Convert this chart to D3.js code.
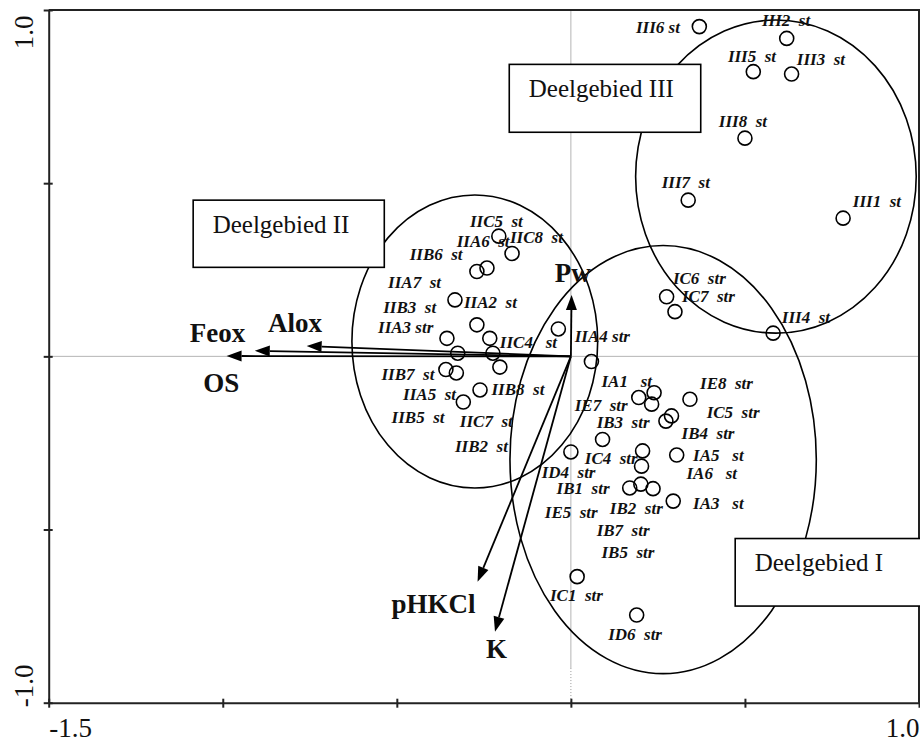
<!DOCTYPE html>
<html>
<head>
<meta charset="utf-8">
<script src="https://cdn.jsdelivr.net/npm/d3@7"></script>
<style>
  body { margin: 0; background: #fff; }
  svg { display: block; }
  text { font-family: "Liberation Serif", "Times New Roman", serif; }
  .site-label { white-space: pre; font-style: italic; font-weight: bold; font-size: 17px; fill: #111; }
  .env-label { font-weight: bold; font-size: 27px; fill: #111; }
  .region-label { font-size: 25px; fill: #111; }
</style>
</head>
<body>
<svg id="chart" width="920" height="742"></svg>
<script>
// ---- Ordination axes ----
const xDomain = [-1.5, 1.0];
const yDomain = [-1.0, 1.0];
const xTicks = [-1.5, -1.0, -0.5, 0, 0.5, 1.0];
const xTickLabels = ["-1.5", "", "", "", "", "1.0"];
const yTicks = [-1.0, -0.5, 0, 0.5, 1.0];
const yTickLabels = ["-1.0", "", "", "", "1.0"];

// ---- Sample scores (axis 1, axis 2) per sub-area ----
const siteScoresIII = [
  [0.369, 0.952], [0.620, 0.918], [0.524, 0.822], [0.634, 0.815],
  [0.500, 0.630], [0.337, 0.451], [0.782, 0.399], [0.581, 0.067]
];
const siteScoresII = [
  [-0.207, 0.347], [-0.169, 0.297], [-0.270, 0.245], [-0.241, 0.255],
  [-0.333, 0.163], [-0.270, 0.091], [-0.356, 0.052], [-0.233, 0.052],
  [-0.325, 0.009], [-0.224, 0.009], [-0.204, -0.031], [-0.359, -0.038],
  [-0.329, -0.048], [-0.261, -0.097], [-0.309, -0.132], [-0.036, 0.079],
  [0.059, -0.015]
];
const siteScoresI = [
  [0.275, 0.172], [0.299, 0.129], [0.195, -0.119], [0.239, -0.105],
  [0.232, -0.138], [0.342, -0.124], [0.273, -0.187], [0.289, -0.172],
  [0.091, -0.240], [0.000, -0.276], [0.206, -0.273], [0.203, -0.317],
  [0.304, -0.285], [0.169, -0.380], [0.201, -0.369], [0.236, -0.382],
  [0.294, -0.418], [0.018, -0.636], [0.189, -0.747]
];

// ---- Sample labels: text and anchor (axis 1, axis 2) ----
const siteLabelsIII = [
  ["III6 st", 0.187, 0.933], ["III2  st", 0.549, 0.954], ["III5  st", 0.451, 0.851],
  ["III3  st", 0.649, 0.841], ["III8  st", 0.425, 0.661], ["III7  st", 0.261, 0.485],
  ["III1  st", 0.810, 0.430], ["III4  st", 0.606, 0.095]
];
const siteLabelsII = [
  ["IIA4 str", 0.011, 0.042], ["IIC5  st", -0.290, 0.374], ["IIC8  st", -0.175, 0.326],
  ["IIA6  st", -0.328, 0.317], ["IIB6  st", -0.463, 0.278], ["IIA7  st", -0.525, 0.196],
  ["IIB3  st", -0.539, 0.124], ["IIA2  st", -0.307, 0.139], ["IIA3 str", -0.554, 0.067],
  ["IIC4   st", -0.204, 0.023], ["IIB7  st", -0.544, -0.068], ["IIB8  st", -0.228, -0.112],
  ["IIA5  st", -0.482, -0.126], ["IIB5  st", -0.515, -0.192], ["IIC7  st", -0.319, -0.205],
  ["IIB2  st", -0.333, -0.276]
];
const siteLabelsI = [
  ["IC6  str", 0.293, 0.209], ["IC7  str", 0.319, 0.156],
  ["IA1   st", 0.088, -0.088], ["IE8  str", 0.371, -0.095], ["IE7  str", 0.011, -0.158],
  ["IC5  str", 0.390, -0.177], ["IB3  str", 0.074, -0.206], ["IB4  str", 0.318, -0.240],
  ["IA5   st", 0.351, -0.302], ["IC4  str", 0.040, -0.312], ["ID4  str", -0.084, -0.350],
  ["IA6   st", 0.332, -0.355], ["IB1  str", -0.041, -0.398], ["IA3   st", 0.351, -0.442],
  ["IE5  str", -0.075, -0.466], ["IB2  str", 0.112, -0.456], ["IB7  str", 0.074, -0.519],
  ["IB5  str", 0.088, -0.581], ["IC1  str", -0.060, -0.705], ["ID6  str", 0.107, -0.819]
];

// ---- Environmental variables: arrow tips and label anchors ----
const envNames = ["Feox", "OS", "Alox", "Pw", "pHKCl", "K"];
const envAxis1 = [-0.989, -0.908, -0.759, 0.002, -0.268, -0.218];
const envAxis2 = [0.001, 0.016, 0.030, 0.177, -0.651, -0.795];
const envLabelAxis1 = [-1.095, -1.056, -0.870, -0.046, -0.515, -0.244];
const envLabelAxis2 = [0.041, -0.102, 0.071, 0.216, -0.742, -0.872];

// ---- Sub-areas: enclosing ellipses and caption boxes ----
const regionNames = ["Deelgebied I", "Deelgebied II", "Deelgebied III"];
const regionCx = [0.265, -0.276, 0.589];
const regionCy = [-0.298, 0.043, 0.519];
const regionRx = [0.440, 0.353, 0.403];
const regionRy = [0.618, 0.423, 0.452];
const boxLeft = [0.472, -1.085, -0.177];
const boxRight = [1.05, -0.536, 0.373];
const boxTop = [-0.526, 0.451, 0.843];
const boxBottom = [-0.721, 0.257, 0.647];

// ---- Drawing ----
const svg = d3.select("#chart");
const x = d3.scaleLinear().domain(xDomain).range([48.7, 919]);
const y = d3.scaleLinear().domain(yDomain).range([702.7, 10]);

// zero reference lines
svg.append("line")
  .attr("x1", x(xDomain[0])).attr("x2", x(xDomain[1]))
  .attr("y1", y(0)).attr("y2", y(0))
  .attr("stroke", "#b4b4b4").attr("stroke-width", 1);
svg.append("line")
  .attr("x1", x(0)).attr("x2", x(0))
  .attr("y1", y(yDomain[1])).attr("y2", y(-0.9))
  .attr("stroke", "#b4b4b4").attr("stroke-width", 1);
svg.append("line")
  .attr("x1", x(0)).attr("x2", x(0))
  .attr("y1", y(-0.9)).attr("y2", y(yDomain[0]))
  .attr("stroke", "#9a9a9a").attr("stroke-width", 1)
  .attr("stroke-dasharray", "1,2");

// top and right frame
svg.append("path")
  .attr("d", `M${x(xDomain[0])},${y(yDomain[1])}H${x(xDomain[1])}V${y(yDomain[0])}`)
  .attr("fill", "none").attr("stroke", "#222").attr("stroke-width", 2);

// axes
const fmtX = d => xTickLabels[xTicks.indexOf(d)];
const fmtY = d => yTickLabels[yTicks.indexOf(d)];

const gx = svg.append("g")
  .attr("transform", `translate(0,${y(yDomain[0])})`)
  .call(d3.axisBottom(x).tickValues(xTicks).tickFormat(fmtX).tickSizeInner(5).tickSizeOuter(0));
gx.select(".domain").attr("stroke", "#222").attr("stroke-width", 2);
gx.selectAll(".tick line").attr("y1", -4).attr("stroke", "#222").attr("stroke-width", 2);
gx.selectAll(".tick text")
  .attr("font-family", "Liberation Serif, Times New Roman, serif")
  .attr("font-size", 27).attr("fill", "#111")
  .attr("y", 34).attr("dy", 0)
  .attr("text-anchor", (d, i) => i === 0 ? "start" : "end");

const gy = svg.append("g")
  .attr("transform", `translate(${x(xDomain[0])},0)`)
  .call(d3.axisLeft(y).tickValues(yTicks).tickFormat(fmtY).tickSizeInner(5).tickSizeOuter(0));
gy.select(".domain").attr("stroke", "#222").attr("stroke-width", 2);
gy.selectAll(".tick line").attr("x1", 4).attr("stroke", "#222").attr("stroke-width", 2);
gy.selectAll(".tick text")
  .attr("font-family", "Liberation Serif, Times New Roman, serif")
  .attr("font-size", 27).attr("fill", "#111")
  .attr("x", 0).attr("y", 0).attr("dy", 0)
  .attr("transform", d => d > 0 ? "translate(-15.5,5) rotate(-90)" : "translate(-15.5,4) rotate(-90)")
  .attr("text-anchor", d => d > 0 ? "end" : "start");

// sub-area ellipses
svg.append("g").selectAll("ellipse")
  .data(regionNames)
  .join("ellipse")
  .attr("cx", (d, i) => x(regionCx[i]))
  .attr("cy", (d, i) => y(regionCy[i]))
  .attr("rx", (d, i) => x(regionCx[i] + regionRx[i]) - x(regionCx[i]))
  .attr("ry", (d, i) => y(regionCy[i]) - y(regionCy[i] + regionRy[i]))
  .attr("fill", "none").attr("stroke", "#000").attr("stroke-width", 1.6);

// caption boxes
const boxes = svg.append("g").selectAll("g")
  .data(regionNames)
  .join("g");
boxes.append("rect")
  .attr("x", (d, i) => x(boxLeft[i]))
  .attr("y", (d, i) => y(boxTop[i]))
  .attr("width", (d, i) => x(boxRight[i]) - x(boxLeft[i]))
  .attr("height", (d, i) => y(boxBottom[i]) - y(boxTop[i]))
  .attr("fill", "#fff").attr("stroke", "#000").attr("stroke-width", 1.6);
boxes.append("text")
  .attr("class", "region-label")
  .attr("x", (d, i) => x(boxLeft[i]) + 19.5)
  .attr("y", (d, i) => y(boxTop[i]) + 32.5)
  .text(d => d);

// environmental arrows
const ox = x(0), oy = y(0);
const env = svg.append("g");
envNames.forEach((name, i) => {
  const tx = x(envAxis1[i]), ty = y(envAxis2[i]);
  const ang = Math.atan2(ty - oy, tx - ox);
  const headLen = 15, headHalf = 5.5;
  const bx = tx - headLen * Math.cos(ang), by = ty - headLen * Math.sin(ang);
  env.append("line")
    .attr("x1", ox).attr("y1", oy).attr("x2", bx).attr("y2", by)
    .attr("stroke", "#000").attr("stroke-width", 1.8);
  const px = -Math.sin(ang) * headHalf, py = Math.cos(ang) * headHalf;
  env.append("path")
    .attr("d", `M${tx},${ty}L${bx + px},${by + py}L${bx - px},${by - py}Z`)
    .attr("fill", "#000");
  env.append("text")
    .attr("class", "env-label")
    .attr("x", x(envLabelAxis1[i]))
    .attr("y", y(envLabelAxis2[i]))
    .text(name);
});

// sample points
const allScores = siteScoresI.concat(siteScoresII, siteScoresIII);
svg.append("g").selectAll("circle")
  .data(allScores)
  .join("circle")
  .attr("cx", d => x(d[0]))
  .attr("cy", d => y(d[1]))
  .attr("r", 7)
  .attr("fill", "none").attr("stroke", "#000").attr("stroke-width", 1.6);

// sample labels
const allLabels = siteLabelsI.concat(siteLabelsII, siteLabelsIII);
svg.append("g").selectAll("text")
  .data(allLabels)
  .join("text")
  .attr("class", "site-label")
  .attr("x", d => x(d[1]))
  .attr("y", d => y(d[2]))
  .text(d => d[0]);
</script>
</body>
</html>
